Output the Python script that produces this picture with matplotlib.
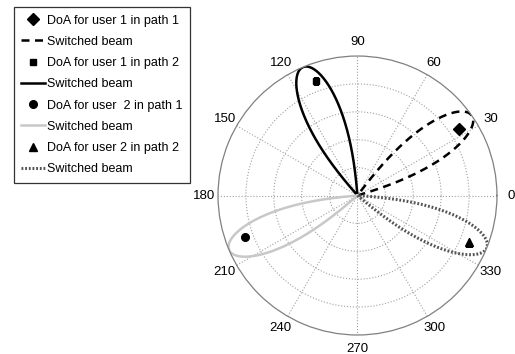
import numpy as np
import matplotlib
matplotlib.use("Agg")
import matplotlib.pyplot as plt
from matplotlib.lines import Line2D

plt.rcParams['font.family'] = ['Liberation Sans', 'DejaVu Sans']

# beam steering angles (deg), main-lobe null half-width (deg), lobe shape exponent
beam_angles = [35, 113, 203, 338]
null_halfwidth = 18.0
lobe_exp = 0.7
beam_styles = [
    dict(color='black', linestyle=(0, (3.2, 2.2)), linewidth=1.8),
    dict(color='black', linestyle='-', linewidth=1.8),
    dict(color='#c8c8c8', linestyle='-', linewidth=1.8),
    dict(color='#555555', linestyle=(0, (0.6, 0.6)), linewidth=2.2),
]

# DoA estimates: angle (deg), normalised radius
doa_angles = [33.4, 110, 200, 337.3]
doa_radii = [0.87, 0.87, 0.86, 0.87]
doa_markers = ['D', 's', 'o', '^']
doa_sizes = [6, 4.2, 5.5, 6]

legend_labels = [
    'DoA for user 1 in path 1', 'Switched beam',
    'DoA for user 1 in path 2', 'Switched beam',
    'DoA for user  2 in path 1', 'Switched beam',
    'DoA for user 2 in path 2', 'Switched beam',
]
angle_ticks = list(range(0, 360, 30))

fig = plt.figure(figsize=(5.15, 3.54), dpi=100)
ax = fig.add_axes([0.4233, 0.0537, 0.5417, 0.788], projection='polar')

theta = np.linspace(0, 2 * np.pi, 4000)
k = 90.0 / null_halfwidth
handles = []
for ang, st, da, dr, mk, ms in zip(beam_angles, beam_styles, doa_angles,
                                   doa_radii, doa_markers, doa_sizes):
    d = np.degrees(np.angle(np.exp(1j * (theta - np.radians(ang)))))
    lobe = np.clip(np.cos(np.radians(k * d)), 0, None)
    r = np.where(np.abs(d) < null_halfwidth, lobe ** lobe_exp, 0.0)
    ax.plot(theta, r, **st)
    ax.plot(np.radians(da), dr, marker=mk, color='black', markersize=ms,
            linestyle='none')
    handles.append(Line2D([], [], marker=mk, color='black', markersize=ms,
                          linestyle='none'))
    handles.append(Line2D([], [], **st))

ax.set_ylim(0, 1)
ax.set_yticks([0.2, 0.4, 0.6, 0.8])
ax.set_yticklabels([])
ax.set_xticks(np.radians(angle_ticks))
ax.set_xticklabels([])
ax.grid(True, linestyle=':', color='#a0a0a0', linewidth=0.8)
ax.spines['polar'].set_color('#808080')
ax.spines['polar'].set_linewidth(0.9)
ax.tick_params(length=0)

for a in angle_ticks:
    ax.text(np.radians(a), 1.1, str(a), ha='center', va='center', fontsize=9.5)

leg = fig.legend(handles, legend_labels, loc='upper left',
                 bbox_to_anchor=(0.027, 0.98), fontsize=9, frameon=True,
                 fancybox=False, edgecolor='black', handlelength=1.9,
                 handletextpad=0.15, labelspacing=0.74, borderpad=0.6,
                 borderaxespad=0)
leg.get_frame().set_linewidth(0.9)

fig.savefig('out.png', dpi=100)
